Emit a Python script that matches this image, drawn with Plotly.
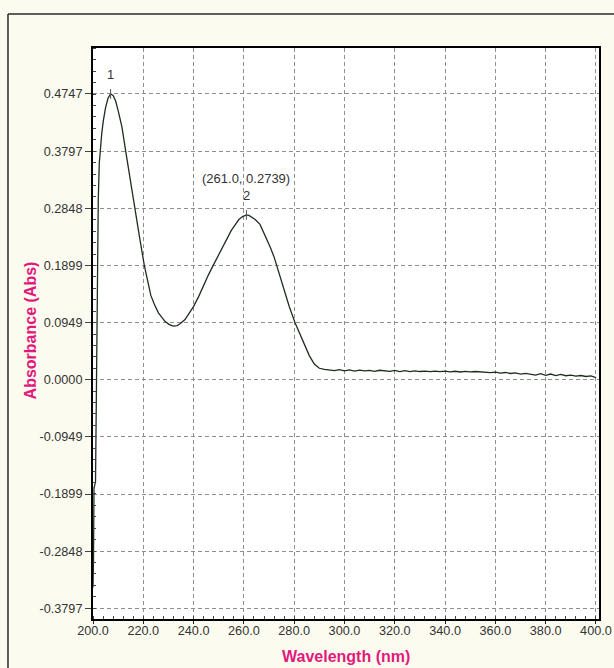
import plotly.graph_objects as go

# ---- data ----
wavelength = [
    200.0, 200.2, 200.4, 200.6, 201.0, 201.4, 201.7, 202.1, 202.5, 202.8, 203.5, 204.1,
    205.0, 206.0, 207.0, 208.0, 209.0, 210.0, 211.5, 213.0, 215.0, 216.7, 218.5,
    220.4, 221.8, 223.0, 224.3, 226.0, 228.6, 230.2, 231.9, 233.5, 234.6, 236.6, 238.2, 239.9,
    242.0, 244.0, 246.0, 247.8, 250.0, 251.8, 253.5, 255.0, 256.8, 258.0, 259.5,
    261.0, 262.0, 263.2, 264.5, 266.4, 268.5, 270.4, 272.0, 273.0, 274.5, 276.0,
    278.0, 280.3, 282.0, 284.0, 286.0, 288.0, 289.0, 290.0, 292.0,
    294, 296, 298, 300, 302, 304, 306, 308, 310, 312, 314, 316, 318, 320,
    322, 324, 326, 328, 330, 332, 334, 336, 338, 340, 342, 344, 346, 348, 350,
    352, 354, 356, 358, 360, 362, 364, 366, 368, 370, 372, 374, 376, 378, 380,
    382, 384, 386, 388, 390, 392, 394, 396, 398, 400,
]
absorbance = [
    -0.345, -0.30, -0.18, -0.175, -0.17, 0.00, 0.21, 0.30, 0.36, 0.3797, 0.41, 0.43,
    0.452, 0.468, 0.4747, 0.472, 0.463, 0.447, 0.420, 0.3797, 0.325, 0.2848, 0.237,
    0.1899, 0.160, 0.140, 0.126, 0.111, 0.097, 0.092, 0.089, 0.090, 0.093, 0.100, 0.110, 0.121,
    0.138, 0.158, 0.175, 0.1899, 0.208, 0.2237, 0.236, 0.248, 0.259, 0.266, 0.271,
    0.2739, 0.273, 0.270, 0.266, 0.258, 0.240, 0.221, 0.204, 0.1899, 0.170, 0.150,
    0.122, 0.0949, 0.078, 0.058, 0.040, 0.026, 0.022, 0.019, 0.017,
    0.0160, 0.0150, 0.0168, 0.0148, 0.0162, 0.0142, 0.0160, 0.0146, 0.0154, 0.0140,
    0.0157, 0.0143, 0.0138, 0.0155, 0.0136, 0.0149, 0.0133, 0.0147, 0.0136, 0.0144,
    0.0133, 0.0142, 0.0135, 0.0142, 0.0130, 0.0140, 0.0128, 0.0138, 0.0130,
    0.0136, 0.0126, 0.0121, 0.0116, 0.0127, 0.0110, 0.0120, 0.0103, 0.0112, 0.0093,
    0.0104, 0.0086, 0.0076, 0.0100, 0.0072, 0.0094, 0.0068, 0.0087, 0.0066, 0.0077,
    0.0058, 0.0070, 0.0053, 0.0064, 0.0035,
]

peak_x = [207.0, 261.0]
peak_y = [0.4747, 0.2739]
peak_labels = ["1", "2"]

x_ticks = [200, 220, 240, 260, 280, 300, 320, 340, 360, 380, 400]
x_ticktext = ["200.0", "220.0", "240.0", "260.0", "280.0", "300.0", "320.0",
              "340.0", "360.0", "380.0", "400.0"]
y_ticks = [0.4747, 0.3797, 0.2848, 0.1899, 0.0949, 0.0, -0.0949, -0.1899, -0.2848, -0.3797]
y_ticktext = ["0.4747", "0.3797", "0.2848", "0.1899", "0.0949", "0.0000",
              "-0.0949", "-0.1899", "-0.2848", "-0.3797"]

BG = "#FCFBEF"
PINK = "#E2197C"
TXT = "#333333"
LINE = "#1E2E1E"
FONT = "Arial"

fig = go.Figure()
fig.add_trace(go.Scatter(x=wavelength, y=absorbance, mode="lines",
                         line=dict(color=LINE, width=1.3), showlegend=False,
                         hoverinfo="skip"))
fig.add_trace(go.Scatter(x=peak_x, y=peak_y, mode="markers",
                         marker=dict(symbol="line-ns-open", size=7, color="#555555",
                                     line=dict(color="#555555", width=1)),
                         showlegend=False, hoverinfo="skip"))

for px, py, lab in zip(peak_x, peak_y, peak_labels):
    fig.add_annotation(x=px, y=py, text=lab, showarrow=False, yshift=19,
                       font=dict(family=FONT, size=13, color=TXT))
fig.add_annotation(x=peak_x[1], y=peak_y[1],
                   text="(%.1f, %.4f)" % (peak_x[1], peak_y[1]),
                   showarrow=False, yshift=36,
                   font=dict(family=FONT, size=13, color=TXT))

# axis titles
fig.add_annotation(x=0.5, y=-0.0665, xref="paper", yref="paper",
                   text="<b>Wavelength (nm)</b>", showarrow=False,
                   yanchor="middle", font=dict(family=FONT, size=16, color=PINK))
fig.add_annotation(x=-0.123, y=0.505, xref="paper", yref="paper",
                   text="<b>Absorbance (Abs)</b>", showarrow=False, textangle=-90,
                   xanchor="center", font=dict(family=FONT, size=16, color=PINK))

# outer frame (left and top edges)
fig.add_shape(type="line", xref="paper", yref="paper",
              x0=-0.168, x1=-0.168, y0=-0.09, y1=1.0595,
              line=dict(color="#2a2a2a", width=1.5))
fig.add_shape(type="line", xref="paper", yref="paper",
              x0=-0.168, x1=1.04, y0=1.0595, y1=1.0595,
              line=dict(color="#2a2a2a", width=1.5))

grid = dict(showgrid=True, gridcolor="#8f8f8f", gridwidth=1, griddash="4px,3px")

fig.update_xaxes(range=[200, 401.2], tickvals=x_ticks, ticktext=x_ticktext,
                 ticks="outside", ticklen=3, tickcolor="#222", tickwidth=1,
                 ticklabelstandoff=-4,
                 minor=dict(ticks="inside", ticklen=3, dtick=4, tickcolor="#444",
                            showgrid=False),
                 showline=True, linecolor="black", linewidth=2, mirror=True,
                 zeroline=False,
                 tickfont=dict(family=FONT, size=12.7, color=TXT), **grid)
fig.update_yaxes(range=[-0.3975, 0.551], tickvals=y_ticks, ticktext=y_ticktext,
                 ticks="outside", ticklen=6, tickcolor="#444", tickwidth=1,
                 minor=dict(ticks="inside", ticklen=3, dtick=0.01898, tick0=0.0,
                            tickcolor="#444", showgrid=False),
                 showline=True, linecolor="black", linewidth=2, mirror=True,
                 zeroline=False,
                 tickfont=dict(family=FONT, size=12.7, color=TXT), **grid)

fig.update_layout(width=614, height=668, paper_bgcolor=BG, plot_bgcolor="white",
                  margin=dict(l=93, r=15, t=48, b=49, autoexpand=False),
                  showlegend=False)

fig.write_html("out.html")
